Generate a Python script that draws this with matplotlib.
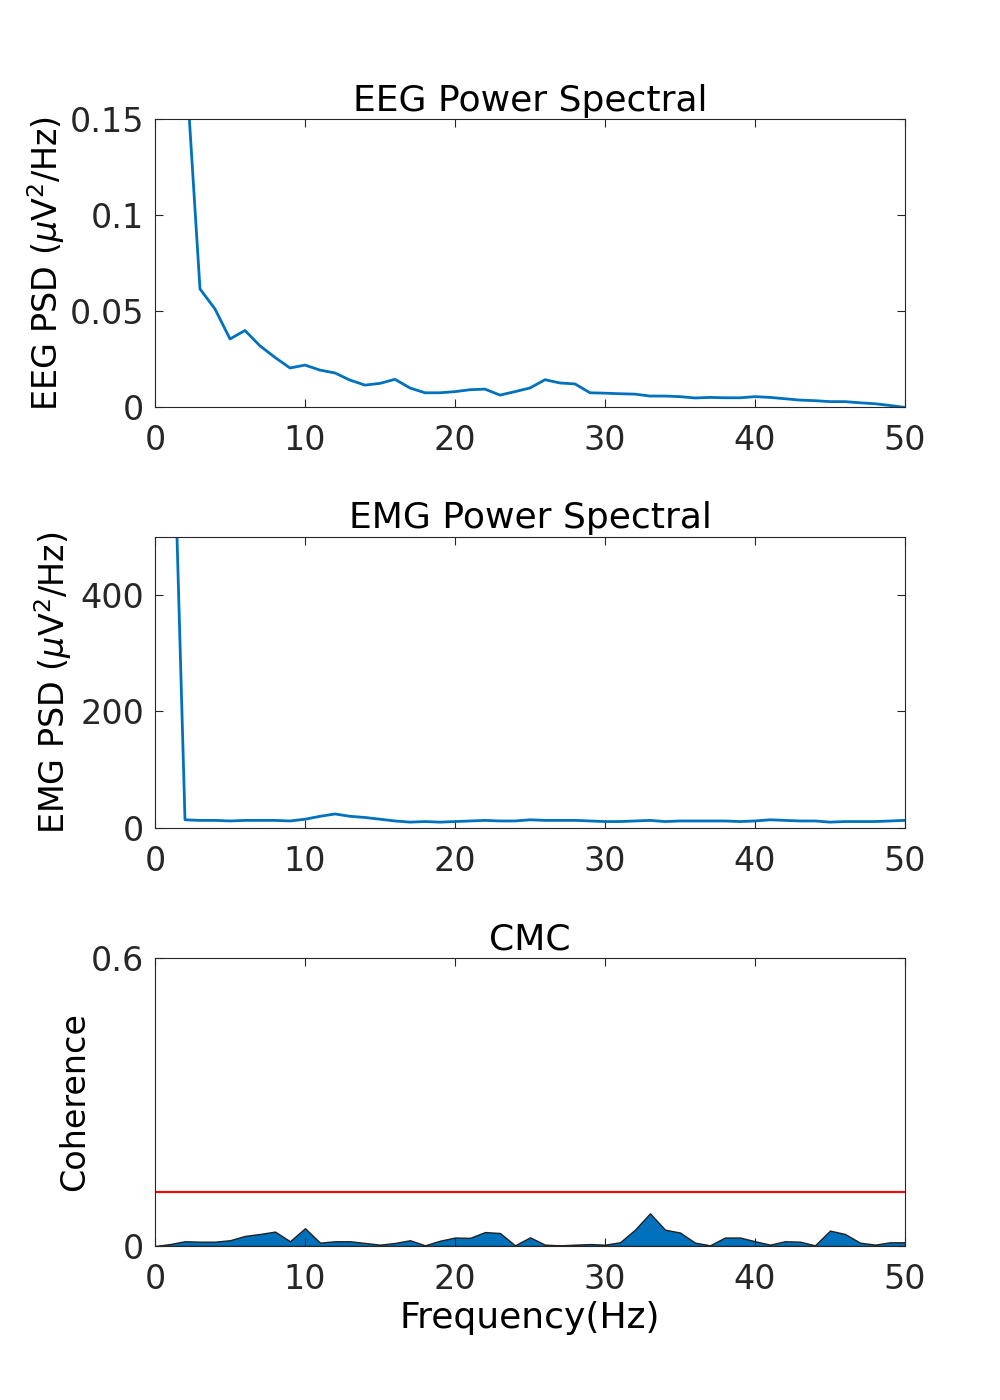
import matplotlib
matplotlib.use("Agg")
import matplotlib.pyplot as plt
import numpy as np

freq_eeg = list(range(1, 51))
eeg_psd = [0.6, 0.186, 0.0616, 0.0512, 0.0356, 0.040, 0.032, 0.026, 0.0205, 0.022,
           0.0194, 0.0179, 0.0142, 0.0116, 0.0125, 0.0146, 0.0101, 0.0076, 0.0076, 0.0082,
           0.0092, 0.0095, 0.0064, 0.0082, 0.0101, 0.0144, 0.0127, 0.0122, 0.0076, 0.0074,
           0.0071, 0.0069, 0.0059, 0.0059, 0.0056, 0.0049, 0.0052, 0.0050, 0.0050, 0.0056,
           0.0052, 0.0045, 0.0038, 0.0035, 0.0030, 0.0030, 0.0024, 0.0019, 0.0010, 0.0]

freq_emg = list(range(1, 51))
emg_psd = [925, 14, 13, 13, 12, 13, 13, 13, 12, 15,
           20, 24, 20, 18, 15, 12, 10, 11, 10, 11,
           12, 13, 12, 12, 14, 13, 13, 13, 12, 11,
           11, 12, 13, 11, 12, 12, 12, 12, 11, 12,
           14, 13, 12, 12, 10, 11, 11, 11, 12, 13]

freq_cmc = list(range(0, 51))
cmc = [0, 0.004, 0.0099, 0.009, 0.009, 0.012, 0.021, 0.025, 0.030, 0.0099,
       0.037, 0.007, 0.0099, 0.0099, 0.0063, 0.0028, 0.0063, 0.012, 0.0014, 0.011,
       0.0176, 0.0169, 0.029, 0.027, 0.0014, 0.018, 0.0028, 0.0014, 0.0028, 0.004,
       0.0028, 0.0077, 0.034, 0.068, 0.034, 0.028, 0.007, 0.0014, 0.0176, 0.0176,
       0.0099, 0.0028, 0.0099, 0.009, 0.0014, 0.032, 0.025, 0.007, 0.0028, 0.0077, 0.0077]
threshold = 0.1125

blue = "#0072BD"
fig = plt.figure(figsize=(10, 14), dpi=100)
fs = 24

def style(ax):
    ax.tick_params(direction="in", top=True, right=True, labelsize=fs, length=6,
                   color="#262626", labelcolor="#262626")
    ax.tick_params(axis="x", pad=12)
    ax.tick_params(axis="y", pad=8)
    for s in ax.spines.values():
        s.set_color("#262626")
    ax.set_xlim(0, 50)
    ax.set_xticks([0, 10, 20, 30, 40, 50])

ax1 = fig.add_axes([0.155, 0.709, 0.75, 0.206])
ax1.plot(freq_eeg, eeg_psd, color=blue, lw=2)
ax1.set_ylim(0, 0.15)
ax1.set_yticks([0, 0.05, 0.1, 0.15])
ax1.set_yticklabels(["0", "0.05", "0.1", "0.15"])
style(ax1)
ax1.set_title("EEG Power Spectral", fontsize=fs + 2)
ax1.set_ylabel(r"EEG PSD ($\mu$V$^2$/Hz)", fontsize=fs, labelpad=2)

ax2 = fig.add_axes([0.155, 0.4086, 0.75, 0.208])
ax2.plot(freq_emg, emg_psd, color=blue, lw=2)
ax2.set_ylim(0, 500)
ax2.set_yticks([0, 200, 400])
style(ax2)
ax2.set_title("EMG Power Spectral", fontsize=fs + 2)
ax2.set_ylabel(r"EMG PSD ($\mu$V$^2$/Hz)", fontsize=fs, labelpad=4)

ax3 = fig.add_axes([0.155, 0.11, 0.75, 0.206])
ax3.fill_between(freq_cmc, cmc, 0, facecolor=blue, edgecolor="#222222", lw=1)
ax3.axhline(threshold, color="red", lw=1.5)
ax3.set_ylim(0, 0.6)
ax3.set_yticks([0, 0.6])
ax3.set_yticklabels(["0", "0.6"])
style(ax3)
ax3.set_title("CMC", fontsize=fs + 2)
ax3.set_ylabel("Coherence", fontsize=fs, labelpad=0)
ax3.set_xlabel("Frequency(Hz)", fontsize=fs + 2, labelpad=4)

fig.savefig("out.png", dpi=100)
